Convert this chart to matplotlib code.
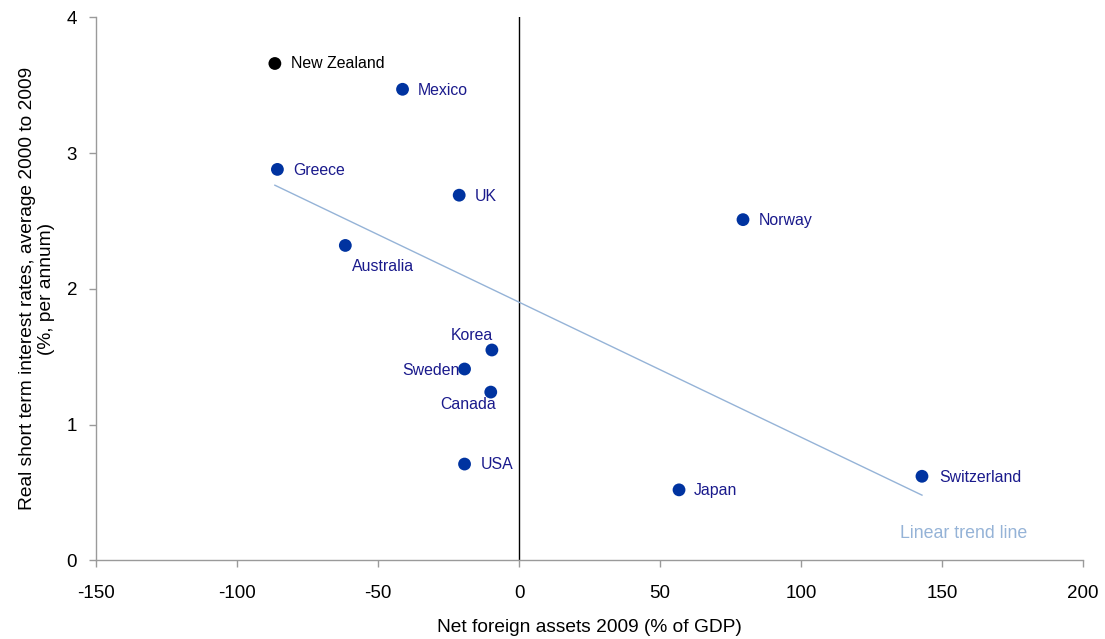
import numpy as np
import matplotlib
matplotlib.use("Agg")
import matplotlib.pyplot as plt

plt.rcParams['font.family'] = ['Liberation Sans', 'DejaVu Sans']

countries = ["New Zealand", "Mexico", "Greece", "UK", "Australia", "Norway",
             "Korea", "Sweden", "Canada", "USA", "Japan", "Switzerland"]
net_foreign_assets = [-86.7, -41.4, -85.8, -21.3, -61.7, 79.4,
                      -9.7, -19.4, -10.1, -19.4, 56.7, 142.9]
real_rates = [3.66, 3.47, 2.88, 2.69, 2.32, 2.51,
              1.55, 1.41, 1.24, 0.71, 0.52, 0.62]
x_ticks = [-150, -100, -50, 0, 50, 100, 150, 200]
y_ticks = [0, 1, 2, 3, 4]

# label offsets in pixels (dx, dy, ha)
label_pos = {
    "New Zealand": (16, 0, 'left'),
    "Mexico": (15, -1, 'left'),
    "Greece": (16, -1, 'left'),
    "UK": (16, -1, 'left'),
    "Australia": (7, -21, 'left'),
    "Norway": (16, -1, 'left'),
    "Korea": (1, 14, 'right'),
    "Sweden": (-5, -1, 'right'),
    "Canada": (5, -12, 'right'),
    "USA": (16, 0, 'left'),
    "Japan": (15, -1, 'left'),
    "Switzerland": (17, -1, 'left'),
}

fig = plt.figure(figsize=(11.05, 6.39), dpi=100)
ax = fig.add_axes([0.0873, 0.1229, 0.8927, 0.8500])

x = np.array(net_foreign_assets)
y = np.array(real_rates)

# linear trend line
slope, intercept = np.polyfit(x, y, 1)
xl = np.array([x.min(), x.max()])
ax.plot(xl, slope * xl + intercept, color='#95B3D7', lw=1.0, zorder=2)

# vertical zero line
ax.plot([0, 0], [0, 4], color='black', lw=1.0, zorder=1)

colors = ['black' if c == "New Zealand" else '#0033A0' for c in countries]
txt_colors = ['black' if c == "New Zealand" else '#1A1A8C' for c in countries]
ax.scatter(x, y, s=85, c=colors, zorder=3, linewidths=0)

for c, xi, yi, tc in zip(countries, x, y, txt_colors):
    dx, dy, ha = label_pos[c]
    ax.annotate(c, (xi, yi), xytext=(dx, dy), textcoords='offset pixels',
                ha=ha, va='center', fontsize=11.4, color=tc)

ax.text(135, 0.2, "Linear trend line", color='#95B3D7', fontsize=12.8,
        ha='left', va='center')

ax.set_xlim(-150, 200)
ax.set_ylim(0, 4)
ax.set_xticks(x_ticks)
ax.set_yticks(y_ticks)
ax.set_xticklabels([str(t) for t in x_ticks])
ax.set_yticklabels([str(t) for t in y_ticks])

for s in ['top', 'right']:
    ax.spines[s].set_visible(False)
for s in ['left', 'bottom']:
    ax.spines[s].set_color('#9A9A9A')
    ax.spines[s].set_linewidth(1.0)
ax.tick_params(axis='both', direction='out', length=5, width=1.0,
               color='#9A9A9A', labelsize=13.5, labelcolor='black')
ax.tick_params(axis='x', pad=13)
ax.tick_params(axis='y', pad=9)

ax.set_xlabel("Net foreign assets 2009 (% of GDP)", fontsize=13.8, labelpad=12)
ax.set_ylabel("Real short term interest rates, average 2000 to 2009\n(%, per annum)",
              fontsize=13.8, labelpad=8, linespacing=1.2)

fig.savefig("out.png", dpi=100)
